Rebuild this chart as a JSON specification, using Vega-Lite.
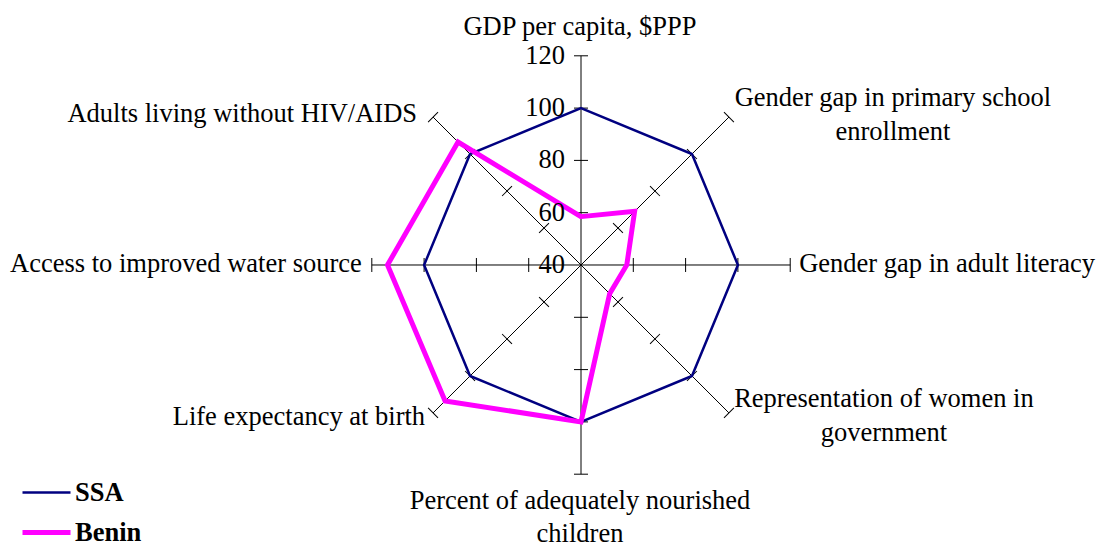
{
  "$schema": "https://vega.github.io/schema/vega-lite/v6.json",
  "width": 1097,
  "height": 546,
  "autosize": {"type": "none"},
  "padding": 0,
  "background": "white",
  "config": {
    "view": {"stroke": null},
    "font": "Liberation Serif",
    "legend": {
      "symbolType": "stroke",
      "symbolSize": 2304,
      "labelFont": "Liberation Serif",
      "labelFontSize": 26.5,
      "labelFontWeight": "bold",
      "labelColor": "black",
      "rowPadding": -2,
      "padding": 0,
      "labelOffset": 2
    }
  },
  "datasets": {
    "axes": [
      {"k": 0, "label": "GDP per capita, $PPP", "ticks": [60, 80, 100, 120]},
      {"k": 1, "label": "Gender gap in primary school\nenrollment", "ticks": [60, 80, 100, 120]},
      {"k": 2, "label": "Gender gap in adult literacy", "ticks": [60, 80, 100, 120]},
      {"k": 3, "label": "Representation of women in\ngovernment", "ticks": [60, 80, 100, 120]},
      {"k": 4, "label": "Percent of adequately nourished\nchildren", "ticks": [60, 80, 100, 120]},
      {"k": 5, "label": "Life expectancy at birth", "ticks": [60, 80, 100, 120]},
      {"k": 6, "label": "Access to improved water source", "ticks": [60, 80, 100, 120]},
      {"k": 7, "label": "Adults living without HIV/AIDS", "ticks": [60, 80, 100, 120]}
    ],
    "scaleLabels": [{"v": 40}, {"v": 60}, {"v": 80}, {"v": 100}, {"v": 120}],
    "scores": [
      {"series": "SSA", "k": 0, "value": 100},
      {"series": "SSA", "k": 1, "value": 100},
      {"series": "SSA", "k": 2, "value": 100},
      {"series": "SSA", "k": 3, "value": 100},
      {"series": "SSA", "k": 4, "value": 100},
      {"series": "SSA", "k": 5, "value": 100},
      {"series": "SSA", "k": 6, "value": 100},
      {"series": "SSA", "k": 7, "value": 100},
      {"series": "Benin", "k": 0, "value": 58.5},
      {"series": "Benin", "k": 1, "value": 69},
      {"series": "Benin", "k": 2, "value": 57.5},
      {"series": "Benin", "k": 3, "value": 55.5},
      {"series": "Benin", "k": 4, "value": 100},
      {"series": "Benin", "k": 5, "value": 113.5},
      {"series": "Benin", "k": 6, "value": 114},
      {"series": "Benin", "k": 7, "value": 106.5}
    ]
  },
  "encoding": {
    "x": {"field": "px", "type": "quantitative", "scale": {"domain": [-222.18, 197.32], "nice": false, "zero": false}, "axis": null},
    "y": {"field": "py", "type": "quantitative", "scale": {"domain": [-107.46, 101.34], "nice": false, "zero": false}, "axis": null}
  },
  "layer": [
    {
      "data": {"name": "axes"},
      "transform": [
        {"calculate": "(90 - 45*datum.k)*PI/180", "as": "ang"},
        {"calculate": "80*cos(datum.ang)", "as": "px"},
        {"calculate": "80*sin(datum.ang)", "as": "py"}
      ],
      "mark": {"type": "rule", "color": "black", "strokeWidth": 1},
      "encoding": {"x2": {"datum": 0}, "y2": {"datum": 0}}
    },
    {
      "data": {"name": "axes"},
      "transform": [
        {"flatten": ["ticks"], "as": ["t"]},
        {"calculate": "(90 - 45*datum.k)*PI/180", "as": "ang"},
        {"calculate": "(datum.t-40)*cos(datum.ang)", "as": "px"},
        {"calculate": "(datum.t-40)*sin(datum.ang)", "as": "py"},
        {"calculate": "45*datum.k", "as": "rot"}
      ],
      "mark": {"type": "point", "shape": "stroke", "size": 196, "filled": false, "stroke": "black", "strokeWidth": 1, "opacity": 1},
      "encoding": {"angle": {"field": "rot", "type": "quantitative", "scale": null}}
    },
    {
      "data": {"name": "scores"},
      "transform": [
        {"filter": "datum.series == 'SSA'"},
        {"calculate": "(90 - 45*datum.k)*PI/180", "as": "ang"},
        {"calculate": "(datum.value-40)*cos(datum.ang)", "as": "px"},
        {"calculate": "(datum.value-40)*sin(datum.ang)", "as": "py"}
      ],
      "mark": {"type": "line", "interpolate": "linear-closed"},
      "encoding": {
        "color": {"field": "series", "type": "nominal", "scale": {"domain": ["SSA", "Benin"], "range": ["#000080", "#FF00FF"]}, "legend": {"orient": "none", "legendX": 20, "legendY": 467, "title": null}},
        "strokeWidth": {"field": "series", "type": "nominal", "scale": {"domain": ["SSA", "Benin"], "range": [2.5, 5]}, "legend": {"orient": "none", "legendX": 20, "legendY": 467, "title": null}},
        "order": {"field": "k", "type": "quantitative"}
      }
    },
    {
      "data": {"name": "scores"},
      "transform": [
        {"filter": "datum.series == 'Benin'"},
        {"calculate": "(90 - 45*datum.k)*PI/180", "as": "ang"},
        {"calculate": "(datum.value-40)*cos(datum.ang)", "as": "px"},
        {"calculate": "(datum.value-40)*sin(datum.ang)", "as": "py"}
      ],
      "mark": {"type": "line", "interpolate": "linear-closed"},
      "encoding": {
        "color": {"field": "series", "type": "nominal", "scale": {"domain": ["SSA", "Benin"], "range": ["#000080", "#FF00FF"]}, "legend": {"orient": "none", "legendX": 20, "legendY": 467, "title": null}},
        "strokeWidth": {"field": "series", "type": "nominal", "scale": {"domain": ["SSA", "Benin"], "range": [2.5, 5]}, "legend": {"orient": "none", "legendX": 20, "legendY": 467, "title": null}},
        "order": {"field": "k", "type": "quantitative"}
      }
    },
    {
      "data": {"name": "scaleLabels"},
      "transform": [
        {"calculate": "0", "as": "px"},
        {"calculate": "datum.v - 40", "as": "py"}
      ],
      "mark": {"type": "text", "font": "Liberation Serif", "fontSize": 26.5, "color": "black", "baseline": "alphabetic", "align": "right", "dx": -16, "dy": 8},
      "encoding": {"text": {"field": "v", "type": "quantitative"}}
    },
    {
      "data": {"name": "axes"},
      "transform": [
        {"filter": "datum.k == 0"},
        {"calculate": "(90 - 45*datum.k)*PI/180", "as": "ang"},
        {"calculate": "80*cos(datum.ang)", "as": "px"},
        {"calculate": "80*sin(datum.ang)", "as": "py"}
      ],
      "mark": {"type": "text", "font": "Liberation Serif", "fontSize": 26.5, "color": "black", "baseline": "alphabetic", "lineBreak": "\n", "lineHeight": 34, "align": "center", "dx": -1, "dy": -21},
      "encoding": {"text": {"field": "label"}}
    },
    {
      "data": {"name": "axes"},
      "transform": [
        {"filter": "datum.k == 1"},
        {"calculate": "(90 - 45*datum.k)*PI/180", "as": "ang"},
        {"calculate": "80*cos(datum.ang)", "as": "px"},
        {"calculate": "80*sin(datum.ang)", "as": "py"}
      ],
      "mark": {"type": "text", "font": "Liberation Serif", "fontSize": 26.5, "color": "black", "baseline": "alphabetic", "lineBreak": "\n", "lineHeight": 34, "align": "center", "dx": 164, "dy": -11},
      "encoding": {"text": {"field": "label"}}
    },
    {
      "data": {"name": "axes"},
      "transform": [
        {"filter": "datum.k == 2"},
        {"calculate": "(90 - 45*datum.k)*PI/180", "as": "ang"},
        {"calculate": "80*cos(datum.ang)", "as": "px"},
        {"calculate": "80*sin(datum.ang)", "as": "py"}
      ],
      "mark": {"type": "text", "font": "Liberation Serif", "fontSize": 26.5, "color": "black", "baseline": "alphabetic", "align": "left", "dx": 9, "dy": 7},
      "encoding": {"text": {"field": "label"}}
    },
    {
      "data": {"name": "axes"},
      "transform": [
        {"filter": "datum.k == 3"},
        {"calculate": "(90 - 45*datum.k)*PI/180", "as": "ang"},
        {"calculate": "80*cos(datum.ang)", "as": "px"},
        {"calculate": "80*sin(datum.ang)", "as": "py"}
      ],
      "mark": {"type": "text", "font": "Liberation Serif", "fontSize": 26.5, "color": "black", "baseline": "alphabetic", "lineBreak": "\n", "lineHeight": 34, "align": "center", "dx": 155, "dy": -6},
      "encoding": {"text": {"field": "label"}}
    },
    {
      "data": {"name": "axes"},
      "transform": [
        {"filter": "datum.k == 4"},
        {"calculate": "(90 - 45*datum.k)*PI/180", "as": "ang"},
        {"calculate": "80*cos(datum.ang)", "as": "px"},
        {"calculate": "80*sin(datum.ang)", "as": "py"}
      ],
      "mark": {"type": "text", "font": "Liberation Serif", "fontSize": 26.5, "color": "black", "baseline": "alphabetic", "lineBreak": "\n", "lineHeight": 33, "align": "center", "dx": -1, "dy": 35},
      "encoding": {"text": {"field": "label"}}
    },
    {
      "data": {"name": "axes"},
      "transform": [
        {"filter": "datum.k == 5"},
        {"calculate": "(90 - 45*datum.k)*PI/180", "as": "ang"},
        {"calculate": "80*cos(datum.ang)", "as": "px"},
        {"calculate": "80*sin(datum.ang)", "as": "py"}
      ],
      "mark": {"type": "text", "font": "Liberation Serif", "fontSize": 26.5, "color": "black", "baseline": "alphabetic", "align": "right", "dx": -8, "dy": 12},
      "encoding": {"text": {"field": "label"}}
    },
    {
      "data": {"name": "axes"},
      "transform": [
        {"filter": "datum.k == 6"},
        {"calculate": "(90 - 45*datum.k)*PI/180", "as": "ang"},
        {"calculate": "80*cos(datum.ang)", "as": "px"},
        {"calculate": "80*sin(datum.ang)", "as": "py"}
      ],
      "mark": {"type": "text", "font": "Liberation Serif", "fontSize": 26.5, "color": "black", "baseline": "alphabetic", "align": "right", "dx": -10, "dy": 7},
      "encoding": {"text": {"field": "label"}}
    },
    {
      "data": {"name": "axes"},
      "transform": [
        {"filter": "datum.k == 7"},
        {"calculate": "(90 - 45*datum.k)*PI/180", "as": "ang"},
        {"calculate": "80*cos(datum.ang)", "as": "px"},
        {"calculate": "80*sin(datum.ang)", "as": "py"}
      ],
      "mark": {"type": "text", "font": "Liberation Serif", "fontSize": 26.5, "color": "black", "baseline": "alphabetic", "align": "right", "dx": -16, "dy": 5},
      "encoding": {"text": {"field": "label"}}
    }
  ]
}
